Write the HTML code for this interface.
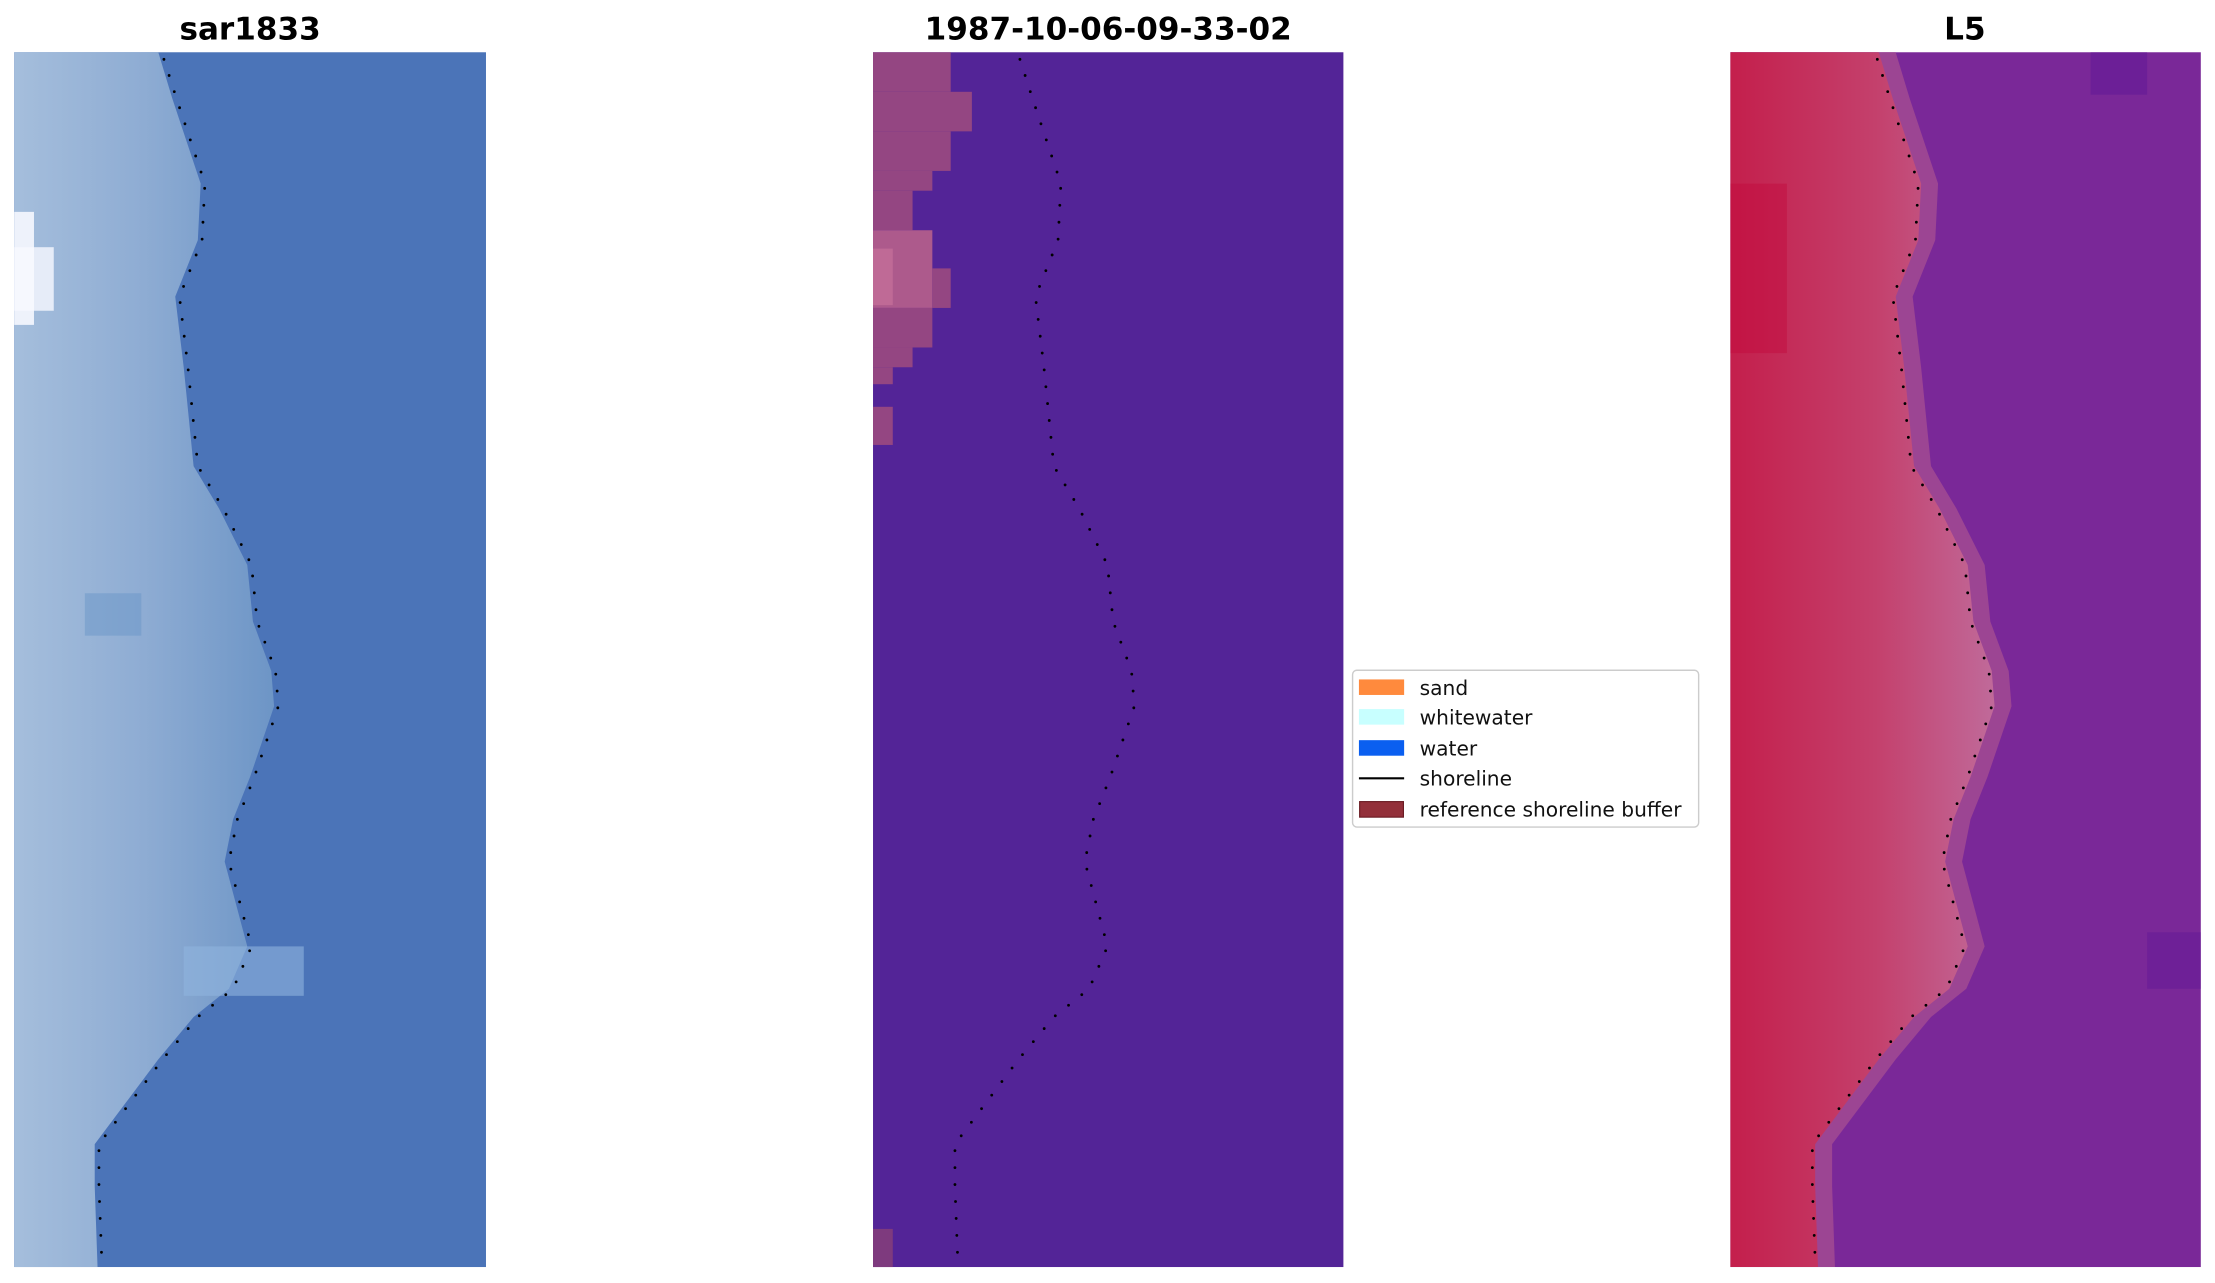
<!DOCTYPE html>
<html><head><meta charset="utf-8"><style>
html,body{margin:0;padding:0;background:#fff;}
svg{display:block;}
text{font-family:"DejaVu Sans","Liberation Sans",sans-serif;}
</style></head><body>
<svg width="2215" height="1283" viewBox="0 0 1568 908.3" xmlns="http://www.w3.org/2000/svg">
<defs>
<linearGradient id="g1" x1="0" x2="1" y1="0" y2="0">
<stop offset="0" stop-color="#a5bedc"/><stop offset="0.5" stop-color="#8eacd3"/><stop offset="1" stop-color="#6d95c6"/>
</linearGradient>
<linearGradient id="g3" x1="0" x2="1" y1="0" y2="0">
<stop offset="0" stop-color="#c41f4c"/><stop offset="0.55" stop-color="#c4406c"/><stop offset="1" stop-color="#c06a9a"/>
</linearGradient>
<path id="shore" d="M116,42 L125,70 L145,130 L143,170 L127,210 L133,260 L140,330 L158,360 L178,400 L182,440 L195,475 L197,500 L180,550 L168,580 L162,610 L170,640 L178,670 L165,700 L140,720 L115,750 L85,790 L70,810 L70,840 L72,892"/>
</defs>

<!-- Panel 1 -->
<text x="177" y="28" font-size="22" font-weight="bold" text-anchor="middle">sar1833</text>
<rect x="10" y="37" width="334" height="860" fill="#4b74b8"/>
<path d="M10,37 L112,37 L122,70 L142,130 L140,170 L124,210 L130,260 L137,330 L155,360 L175,400 L179,440 L192,475 L194,500 L177,550 L165,580 L159,610 L167,640 L175,670 L162,700 L137,720 L112,750 L82,790 L67,810 L67,840 L69,897 L10,897 Z" fill="url(#g1)"/>
<rect x="10" y="150" width="14" height="80" fill="#eef2fb"/>
<rect x="10" y="175" width="28" height="45" fill="#f7f9ff" opacity="0.8"/>
<rect x="130" y="670" width="85" height="35" fill="#8fb4de" opacity="0.6"/>
<rect x="60" y="420" width="40" height="30" fill="#6a95c8" opacity="0.5"/>
<use href="#shore" fill="none" stroke="#000" stroke-width="2" stroke-linecap="round" stroke-dasharray="0 12"/>

<!-- Panel 2 -->
<text x="784.5" y="28" font-size="22" font-weight="bold" text-anchor="middle">1987-10-06-09-33-02</text>
<rect x="618" y="37" width="333" height="860" fill="#532497"/>
<rect x="618" y="37" width="55" height="28" fill="#944682"/>
<rect x="618" y="65" width="70" height="28" fill="#944682"/>
<rect x="618" y="93" width="55" height="28" fill="#944682"/>
<rect x="618" y="121" width="42" height="14" fill="#944682"/>
<rect x="618" y="135" width="28" height="28" fill="#944682"/>
<rect x="618" y="163" width="42" height="55" fill="#ad5a8c"/>
<rect x="660" y="190" width="13" height="28" fill="#944682"/>
<rect x="618" y="176" width="14" height="40" fill="#bf6a96"/>
<rect x="618" y="218" width="42" height="28" fill="#944682"/>
<rect x="618" y="246" width="28" height="14" fill="#944682"/>
<rect x="618" y="260" width="14" height="12" fill="#944682"/>
<rect x="618" y="288" width="14" height="27" fill="#944682"/>
<rect x="618" y="870" width="14" height="27" fill="#7e3a7e"/>
<use href="#shore" transform="translate(606,0)" fill="none" stroke="#000" stroke-width="2" stroke-linecap="round" stroke-dasharray="0 12"/>

<!-- Panel 3 -->
<text x="1391" y="28" font-size="22" font-weight="bold" text-anchor="middle">L5</text>
<rect x="1225" y="37" width="333" height="860" fill="#7a2898"/>
<path d="M1225,37 L1342,37 L1352,70 L1372,130 L1370,170 L1354,210 L1360,260 L1367,330 L1385,360 L1405,400 L1409,440 L1422,475 L1424,500 L1407,550 L1395,580 L1389,610 L1397,640 L1405,670 L1392,700 L1367,720 L1342,750 L1312,790 L1297,810 L1297,840 L1299,897 L1225,897 Z" fill="#9c4593"/>
<path d="M1225,37 L1330,37 L1340,70 L1360,130 L1358,170 L1342,210 L1348,260 L1355,330 L1373,360 L1393,400 L1397,440 L1410,475 L1412,500 L1395,550 L1383,580 L1377,610 L1385,640 L1393,670 L1380,700 L1355,720 L1330,750 L1300,790 L1285,810 L1285,840 L1287,897 L1225,897 Z" fill="url(#g3)"/>
<rect x="1225" y="130" width="40" height="120" fill="#c2063a" opacity="0.4"/>
<rect x="1480" y="37" width="40" height="30" fill="#5d1596" opacity="0.5"/>
<rect x="1520" y="660" width="38" height="40" fill="#5d1596" opacity="0.4"/>
<use href="#shore" transform="translate(1213,0)" fill="none" stroke="#000" stroke-width="2" stroke-linecap="round" stroke-dasharray="0 12"/>

<!-- Legend -->
<rect x="957.5" y="474.5" width="245" height="111" rx="3" fill="#fff" stroke="#ccc" stroke-width="1"/>
<rect x="962" y="481" width="32" height="11" fill="#ff8a3d"/>
<rect x="962" y="502" width="32" height="11" fill="#c8ffff"/>
<rect x="962" y="524" width="32" height="11" fill="#0a5ff0"/>
<line x1="962" y1="551" x2="994" y2="551" stroke="#000" stroke-width="1.5"/>
<rect x="962.5" y="567.5" width="31" height="11" fill="#93303a" stroke="#6a1a22" stroke-width="0.8"/>
<g font-size="14.3" fill="#111">
<text x="1005" y="492">sand</text>
<text x="1005" y="513">whitewater</text>
<text x="1005" y="535">water</text>
<text x="1005" y="556">shoreline</text>
<text x="1005" y="578">reference shoreline buffer</text>
</g>
</svg>
</body></html>
